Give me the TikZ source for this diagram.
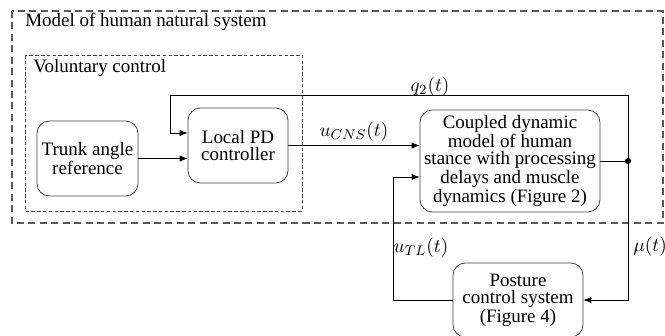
\documentclass[tikz,border=0pt]{standalone}
\usepackage{fontspec}
\setmainfont{Liberation Serif}
\usetikzlibrary{arrows.meta}

\begin{document}
\begin{tikzpicture}[x=0.02cm, y=-0.02cm, line width=0.45pt,
	font=\rmfamily\fontsize{10.8}{9.5}\selectfont,
	block/.style={draw=black!75, rounded corners=7pt, align=center, inner sep=0pt},
	sig/.style={-{Latex[length=4.5pt,width=3.6pt]}},
	outerbox/.style={draw=black!65, line width=0.8pt, dash pattern=on 4pt off 2.5pt},
	innerbox/.style={draw=black!75, line width=0.4pt, dash pattern=on 2pt off 1.3pt}]
			%%%%% START %%%%%
			
			\useasboundingbox (0,0) rectangle (665,335);
			
			\draw[outerbox] (12,11) rectangle (663,223);
			\node[anchor=west] (mlabel) at (19,22) {Model of human natural system};
			
			\draw[innerbox] (25,55) rectangle (302,211);
			\node[anchor=west] (vlabel) at (27,68) {Voluntary control};
			
			\node[block, minimum width=2.02cm, minimum height=1.5cm] (trunk) at (87.5,158.5) {Trunk angle\\reference};
			\node[block, minimum width=2cm, minimum height=1.5cm] (pd) at (238,145.5) {Local PD\\controller};
			\node[block, minimum width=3.6cm, minimum height=2.04cm] (coupled) at (510,161) {Coupled dynamic\\model of human\\stance with processing\\delays and muscle\\dynamics (Figure 2)};
			\node[block, minimum width=2.6cm, minimum height=1.48cm] (posture) at (518,300) {Posture\\control system\\(Figure 4)};
			
			\node[circle, fill, inner sep=0pt, minimum size=3.5pt] (jn) at (628,161) {};
			\coordinate (fbtop) at (170,95);
			\coordinate (tl) at (393,177);
			
			\draw[sig] (trunk.east) -- (trunk.east -| pd.west);
			\draw[sig] (pd.east) -- node[above, inner sep=2pt] (ucns) {$u_{CNS}(t)$} (pd.east -| coupled.west);
			\draw (coupled.east) -- (jn);
			\draw[sig] (jn.center) |- (fbtop) |- ([yshift=0.25cm]pd.west);
			\draw[sig] (jn.center) |- (posture.east);
			\draw[sig] (posture.west) -| (tl) -- (tl -| coupled.west);
			
			\node (q2) at (430,87) {$q_2(t)$};
			\node (mu) at (650,247) {$\mu(t)$};
			\node (utl) at (421,248) {$u_{TL}(t)$};
			
			%%%%% END %%%%%
\end{tikzpicture}
\end{document}
